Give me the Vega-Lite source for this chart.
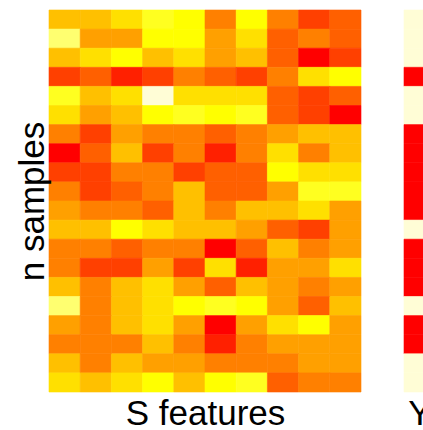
{
  "$schema": "https://vega.github.io/schema/vega-lite/v6.json",
  "padding": {"left": 15, "top": 9, "right": 0, "bottom": 0},
  "background": "white",
  "config": {
    "view": {"stroke": null},
    "font": "Liberation Sans",
    "axis": {"titleFont": "Liberation Sans", "titleFontSize": 35, "titleFontWeight": "normal", "titleColor": "black", "labels": false, "ticks": false, "domain": false, "grid": false}
  },
  "datasets": {
    "S": [
      {"i":0,"j":0,"v":6},{"i":0,"j":1,"v":6},{"i":0,"j":2,"v":7},{"i":0,"j":3,"v":9},{"i":0,"j":4,"v":8},{"i":0,"j":5,"v":4},{"i":0,"j":6,"v":8},{"i":0,"j":7,"v":4},{"i":0,"j":8,"v":2},{"i":0,"j":9,"v":3},
      {"i":1,"j":0,"v":10},{"i":1,"j":1,"v":5},{"i":1,"j":2,"v":5},{"i":1,"j":3,"v":8},{"i":1,"j":4,"v":8},{"i":1,"j":5,"v":5},{"i":1,"j":6,"v":7},{"i":1,"j":7,"v":3},{"i":1,"j":8,"v":4},{"i":1,"j":9,"v":3},
      {"i":2,"j":0,"v":6},{"i":2,"j":1,"v":7},{"i":2,"j":2,"v":8},{"i":2,"j":3,"v":6},{"i":2,"j":4,"v":7},{"i":2,"j":5,"v":5},{"i":2,"j":6,"v":6},{"i":2,"j":7,"v":3},{"i":2,"j":8,"v":0},{"i":2,"j":9,"v":2},
      {"i":3,"j":0,"v":2},{"i":3,"j":1,"v":3},{"i":3,"j":2,"v":1},{"i":3,"j":3,"v":2},{"i":3,"j":4,"v":4},{"i":3,"j":5,"v":3},{"i":3,"j":6,"v":2},{"i":3,"j":7,"v":4},{"i":3,"j":8,"v":7},{"i":3,"j":9,"v":8},
      {"i":4,"j":0,"v":9},{"i":4,"j":1,"v":6},{"i":4,"j":2,"v":7},{"i":4,"j":3,"v":11},{"i":4,"j":4,"v":7},{"i":4,"j":5,"v":7},{"i":4,"j":6,"v":7},{"i":4,"j":7,"v":3},{"i":4,"j":8,"v":2},{"i":4,"j":9,"v":3},
      {"i":5,"j":0,"v":7},{"i":5,"j":1,"v":5},{"i":5,"j":2,"v":6},{"i":5,"j":3,"v":8},{"i":5,"j":4,"v":9},{"i":5,"j":5,"v":8},{"i":5,"j":6,"v":9},{"i":5,"j":7,"v":3},{"i":5,"j":8,"v":2},{"i":5,"j":9,"v":0},
      {"i":6,"j":0,"v":4},{"i":6,"j":1,"v":2},{"i":6,"j":2,"v":5},{"i":6,"j":3,"v":4},{"i":6,"j":4,"v":4},{"i":6,"j":5,"v":3},{"i":6,"j":6,"v":4},{"i":6,"j":7,"v":5},{"i":6,"j":8,"v":6},{"i":6,"j":9,"v":6},
      {"i":7,"j":0,"v":0},{"i":7,"j":1,"v":3},{"i":7,"j":2,"v":6},{"i":7,"j":3,"v":2},{"i":7,"j":4,"v":4},{"i":7,"j":5,"v":1},{"i":7,"j":6,"v":4},{"i":7,"j":7,"v":7},{"i":7,"j":8,"v":4},{"i":7,"j":9,"v":6},
      {"i":8,"j":0,"v":2},{"i":8,"j":1,"v":2},{"i":8,"j":2,"v":4},{"i":8,"j":3,"v":4},{"i":8,"j":4,"v":2},{"i":8,"j":5,"v":3},{"i":8,"j":6,"v":3},{"i":8,"j":7,"v":8},{"i":8,"j":8,"v":7},{"i":8,"j":9,"v":7},
      {"i":9,"j":0,"v":4},{"i":9,"j":1,"v":2},{"i":9,"j":2,"v":3},{"i":9,"j":3,"v":4},{"i":9,"j":4,"v":6},{"i":9,"j":5,"v":3},{"i":9,"j":6,"v":3},{"i":9,"j":7,"v":5},{"i":9,"j":8,"v":9},{"i":9,"j":9,"v":9},
      {"i":10,"j":0,"v":5},{"i":10,"j":1,"v":4},{"i":10,"j":2,"v":4},{"i":10,"j":3,"v":3},{"i":10,"j":4,"v":6},{"i":10,"j":5,"v":4},{"i":10,"j":6,"v":6},{"i":10,"j":7,"v":6},{"i":10,"j":8,"v":7},{"i":10,"j":9,"v":5},
      {"i":11,"j":0,"v":6},{"i":11,"j":1,"v":6},{"i":11,"j":2,"v":8},{"i":11,"j":3,"v":7},{"i":11,"j":4,"v":6},{"i":11,"j":5,"v":6},{"i":11,"j":6,"v":5},{"i":11,"j":7,"v":3},{"i":11,"j":8,"v":2},{"i":11,"j":9,"v":5},
      {"i":12,"j":0,"v":4},{"i":12,"j":1,"v":4},{"i":12,"j":2,"v":3},{"i":12,"j":3,"v":4},{"i":12,"j":4,"v":4},{"i":12,"j":5,"v":0},{"i":12,"j":6,"v":3},{"i":12,"j":7,"v":6},{"i":12,"j":8,"v":4},{"i":12,"j":9,"v":5},
      {"i":13,"j":0,"v":4},{"i":13,"j":1,"v":2},{"i":13,"j":2,"v":2},{"i":13,"j":3,"v":5},{"i":13,"j":4,"v":2},{"i":13,"j":5,"v":7},{"i":13,"j":6,"v":1},{"i":13,"j":7,"v":5},{"i":13,"j":8,"v":5},{"i":13,"j":9,"v":7},
      {"i":14,"j":0,"v":6},{"i":14,"j":1,"v":4},{"i":14,"j":2,"v":6},{"i":14,"j":3,"v":7},{"i":14,"j":4,"v":5},{"i":14,"j":5,"v":3},{"i":14,"j":6,"v":6},{"i":14,"j":7,"v":5},{"i":14,"j":8,"v":4},{"i":14,"j":9,"v":5},
      {"i":15,"j":0,"v":10},{"i":15,"j":1,"v":4},{"i":15,"j":2,"v":6},{"i":15,"j":3,"v":7},{"i":15,"j":4,"v":8},{"i":15,"j":5,"v":9},{"i":15,"j":6,"v":8},{"i":15,"j":7,"v":5},{"i":15,"j":8,"v":3},{"i":15,"j":9,"v":6},
      {"i":16,"j":0,"v":5},{"i":16,"j":1,"v":4},{"i":16,"j":2,"v":6},{"i":16,"j":3,"v":7},{"i":16,"j":4,"v":5},{"i":16,"j":5,"v":0},{"i":16,"j":6,"v":5},{"i":16,"j":7,"v":7},{"i":16,"j":8,"v":8},{"i":16,"j":9,"v":5},
      {"i":17,"j":0,"v":4},{"i":17,"j":1,"v":4},{"i":17,"j":2,"v":4},{"i":17,"j":3,"v":6},{"i":17,"j":4,"v":4},{"i":17,"j":5,"v":1},{"i":17,"j":6,"v":4},{"i":17,"j":7,"v":5},{"i":17,"j":8,"v":5},{"i":17,"j":9,"v":5},
      {"i":18,"j":0,"v":6},{"i":18,"j":1,"v":4},{"i":18,"j":2,"v":6},{"i":18,"j":3,"v":5},{"i":18,"j":4,"v":5},{"i":18,"j":5,"v":4},{"i":18,"j":6,"v":4},{"i":18,"j":7,"v":4},{"i":18,"j":8,"v":5},{"i":18,"j":9,"v":5},
      {"i":19,"j":0,"v":7},{"i":19,"j":1,"v":6},{"i":19,"j":2,"v":7},{"i":19,"j":3,"v":8},{"i":19,"j":4,"v":6},{"i":19,"j":5,"v":8},{"i":19,"j":6,"v":9},{"i":19,"j":7,"v":3},{"i":19,"j":8,"v":4},{"i":19,"j":9,"v":4}
    ],
    "Y": [
      {"i":0,"name":"Y","y":0},{"i":1,"name":"Y","y":0},{"i":2,"name":"Y","y":0},{"i":3,"name":"Y","y":1},{"i":4,"name":"Y","y":0},
      {"i":5,"name":"Y","y":0},{"i":6,"name":"Y","y":1},{"i":7,"name":"Y","y":1},{"i":8,"name":"Y","y":1},{"i":9,"name":"Y","y":1},
      {"i":10,"name":"Y","y":1},{"i":11,"name":"Y","y":0},{"i":12,"name":"Y","y":1},{"i":13,"name":"Y","y":1},{"i":14,"name":"Y","y":1},
      {"i":15,"name":"Y","y":0},{"i":16,"name":"Y","y":1},{"i":17,"name":"Y","y":1},{"i":18,"name":"Y","y":0},{"i":19,"name":"Y","y":0}
    ]
  },
  "spacing": 41,
  "resolve": {"scale": {"color": "independent", "stroke": "independent"}},
  "hconcat": [
    {
      "width": 312,
      "height": 382,
      "data": {"name": "S"},
      "mark": {"type": "rect", "strokeWidth": 0.6},
      "encoding": {
        "x": {"field": "j", "type": "ordinal", "axis": {"title": "S features", "titlePadding": 4}},
        "y": {"field": "i", "type": "ordinal", "axis": {"title": "n samples", "titlePadding": -1}},
        "color": {"field": "v", "type": "ordinal", "legend": null,
          "scale": {"domain": [0,1,2,3,4,5,6,7,8,9,10,11],
            "range": ["#FF0000","#FF2000","#FF4000","#FF6000","#FF8000","#FFA000","#FFC000","#FFE000","#FFFF00","#FFFF20","#FFFF70","#FFFDD6"]}},
        "stroke": {"field": "v", "type": "ordinal", "legend": null,
          "scale": {"domain": [0,1,2,3,4,5,6,7,8,9,10,11],
            "range": ["#FF0000","#FF2000","#FF4000","#FF6000","#FF8000","#FFA000","#FFC000","#FFE000","#FFFF00","#FFFF20","#FFFF70","#FFFDD6"]}}
      }
    },
    {
      "width": 31,
      "height": 382,
      "data": {"name": "Y"},
      "mark": {"type": "rect", "strokeWidth": 0.6},
      "encoding": {
        "x": {"field": "name", "type": "nominal", "axis": {"title": "Y", "titlePadding": 4}},
        "y": {"field": "i", "type": "ordinal", "axis": null},
        "color": {"field": "y", "type": "ordinal", "legend": null,
          "scale": {"domain": [0,1], "range": ["#FFFDD6","#FF0000"]}},
        "stroke": {"field": "y", "type": "ordinal", "legend": null,
          "scale": {"domain": [0,1], "range": ["#FFFDD6","#FF0000"]}}
      }
    }
  ]
}
